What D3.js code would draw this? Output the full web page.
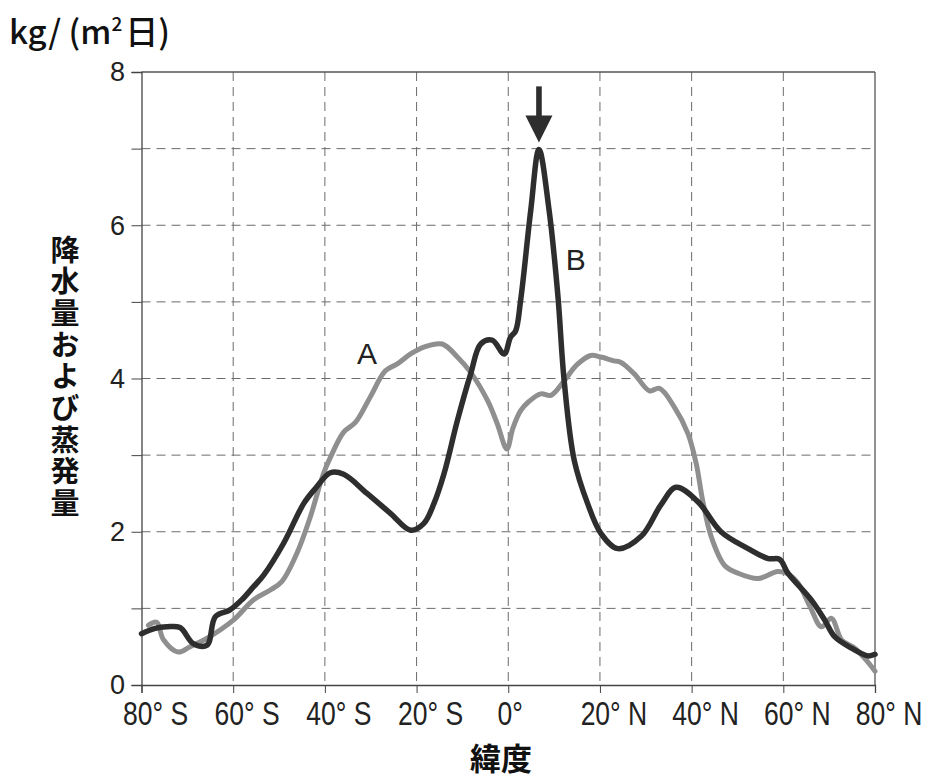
<!DOCTYPE html>
<html>
<head>
<meta charset="utf-8">
<script src="https://cdn.jsdelivr.net/npm/d3@7"></script>
<style>
  html, body { margin: 0; padding: 0; background: #fff; }
  svg { display: block; }
</style>
</head>
<body>
<svg id="chart" width="930" height="778"></svg>
<script>
// ---- data ----
const latA = [-78.5, -76.7, -75.2, -72.0, -69.4, -65.7, -59.9, -55.6, -51.9, -49.4, -46.1, -43.2, -40.3, -38.8, -35.9, -33.3, -30.1, -26.8, -24.2, -21.3, -18.4, -14.4, -11.1, -8.2, -4.5, -2.4, -0.3, 1.0, 2.7, 4.5, 7.1, 9.3, 12.2, 15.0, 18.0, 20.2, 23.1, 24.6, 27.5, 30.8, 33.0, 36.2, 39.2, 41.0, 42.4, 44.3, 47.2, 50.1, 54.5, 58.8, 61.0, 63.2, 66.0, 68.3, 70.5, 72.7, 75.6, 78.0, 80.0];
const valA = [0.78, 0.82, 0.59, 0.43, 0.50, 0.61, 0.85, 1.11, 1.24, 1.35, 1.72, 2.19, 2.76, 2.97, 3.30, 3.43, 3.76, 4.10, 4.19, 4.32, 4.41, 4.45, 4.28, 4.08, 3.71, 3.41, 3.08, 3.35, 3.58, 3.70, 3.80, 3.78, 3.97, 4.18, 4.30, 4.28, 4.23, 4.21, 4.06, 3.84, 3.87, 3.63, 3.28, 2.89, 2.41, 1.93, 1.56, 1.46, 1.39, 1.48, 1.45, 1.33, 1.00, 0.76, 0.87, 0.59, 0.48, 0.33, 0.18];

const latB = [-80, -77.0, -74.5, -71.6, -68.7, -65.7, -63.9, -60.7, -58.0, -55.6, -53.4, -49.0, -44.6, -42.0, -38.8, -35.9, -30.8, -25.7, -21.3, -18.4, -16.2, -14.0, -11.1, -8.2, -6.0, -3.5, -0.9, 0.5, 1.6, 2.7, 4.9, 6.7, 8.9, 10.8, 12.2, 14.4, 17.3, 20.2, 23.9, 29.0, 33.3, 36.6, 41.4, 46.4, 52.3, 56.7, 59.2, 61.0, 66.1, 69.0, 71.2, 74.9, 78.5, 80];
const valB = [0.67, 0.74, 0.76, 0.75, 0.54, 0.52, 0.89, 0.98, 1.12, 1.28, 1.43, 1.85, 2.37, 2.57, 2.77, 2.75, 2.50, 2.24, 2.02, 2.11, 2.37, 2.76, 3.45, 4.06, 4.45, 4.50, 4.32, 4.54, 4.62, 5.02, 6.19, 6.99, 6.20, 5.10, 3.97, 2.93, 2.37, 1.98, 1.78, 1.94, 2.35, 2.58, 2.39, 2.00, 1.78, 1.65, 1.64, 1.46, 1.11, 0.85, 0.63, 0.48, 0.38, 0.40];

const xTicks = [-80, -60, -40, -20, 0, 20, 40, 60, 80];
const xTickLabels = ["80° S", "60° S", "40° S", "20° S", "0°", "20° N", "40° N", "60° N", "80° N"];
const yTicks = [0, 1, 2, 3, 4, 5, 6, 7, 8];
const yTickLabels = ["0", "", "2", "", "4", "", "6", "", "8"];
const seriesNames = ["A", "B"];
const yTitle = "降水量および蒸発量";
const xTitle = "緯度";
const peakLat = 6.7, peakVal = 6.99;

(function () {
// ---- layout ----
const svg = d3.select("#chart");
const pL = 141.5, pR = 875, pT = 72, pB = 685;
const x = d3.scaleLinear().domain([-80, 80]).range([pL, pR]);
const y = d3.scaleLinear().domain([0, 8]).range([pB, pT]);

const gridColor = "#6b6b6b";

// grid lines
svg.append("g").selectAll("line")
  .data(yTicks.filter(d => d > 0 && d < 8))
  .join("line")
  .attr("x1", pL).attr("x2", pR)
  .attr("y1", d => y(d)).attr("y2", d => y(d))
  .attr("stroke", gridColor).attr("stroke-width", 1)
  .attr("stroke-dasharray", "9,6");

svg.append("g").selectAll("line")
  .data(xTicks.filter(d => d > -80 && d < 80))
  .join("line")
  .attr("x1", d => x(d)).attr("x2", d => x(d))
  .attr("y1", pT).attr("y2", pB)
  .attr("stroke", gridColor).attr("stroke-width", 1)
  .attr("stroke-dasharray", "9,6");

// frame (top and right)
svg.append("line").attr("x1", pL).attr("x2", pR).attr("y1", pT).attr("y2", pT)
  .attr("stroke", "#555").attr("stroke-width", 1.3);
svg.append("line").attr("x1", pR).attr("x2", pR).attr("y1", pT).attr("y2", pB)
  .attr("stroke", "#555").attr("stroke-width", 1.3);

// axes
const xAxis = d3.axisBottom(x).tickValues(xTicks).tickSize(8).tickFormat("");
const gx = svg.append("g").attr("transform", `translate(0,${pB})`).call(xAxis);
gx.select(".domain").attr("stroke", "#444").attr("stroke-width", 1.3);
gx.selectAll(".tick line").attr("stroke", "#444");

const yAxis = d3.axisLeft(y).tickValues(yTicks).tickSize(10).tickFormat("");
const gy = svg.append("g").attr("transform", `translate(${pL},0)`).call(yAxis);
gy.select(".domain").attr("stroke", "#444").attr("stroke-width", 1.3);
gy.selectAll(".tick line").attr("stroke", "#444");

// tick labels (condensed)
svg.append("g").selectAll("text")
  .data(xTicks)
  .join("text")
  .attr("transform", d => `translate(${x(d) + (d === 0 ? 2 : 14)},725) scale(0.78,1)`)
  .attr("text-anchor", "middle")
  .attr("font-family", "'Liberation Sans', sans-serif")
  .attr("font-size", 34)
  .attr("fill", "#222")
  .text((d, i) => xTickLabels[i]);

svg.append("g").selectAll("text")
  .data(yTicks)
  .join("text")
  .attr("x", 125)
  .attr("y", d => y(d))
  .attr("dy", "0.35em")
  .attr("text-anchor", "end")
  .attr("font-family", "'Liberation Sans', sans-serif")
  .attr("font-size", 27)
  .attr("fill", "#222")
  .text((d, i) => yTickLabels[i]);

// lines
const lineGen = d3.line()
  .x(d => x(d[0])).y(d => y(d[1]))
  .curve(d3.curveCatmullRom.alpha(0.5));

const dataA = latA.map((v, i) => [v, valA[i]]);
const dataB = latB.map((v, i) => [v, valB[i]]);

svg.append("path").datum(dataA)
  .attr("d", lineGen)
  .attr("fill", "none")
  .attr("stroke", "#8f8f8f")
  .attr("stroke-width", 5)
  .attr("stroke-linejoin", "round")
  .attr("stroke-linecap", "round");

svg.append("path").datum(dataB)
  .attr("d", lineGen)
  .attr("fill", "none")
  .attr("stroke", "#2e2e2e")
  .attr("stroke-width", 5.5)
  .attr("stroke-linejoin", "round")
  .attr("stroke-linecap", "round");

// series labels
svg.append("text")
  .attr("x", x(-30.8)).attr("y", y(4.19))
  .attr("text-anchor", "middle")
  .attr("font-family", "'Liberation Sans', sans-serif")
  .attr("font-size", 30).attr("fill", "#222")
  .text(seriesNames[0]);
svg.append("text")
  .attr("x", x(14.75)).attr("y", y(5.42))
  .attr("text-anchor", "middle")
  .attr("font-family", "'Liberation Sans', sans-serif")
  .attr("font-size", 30).attr("fill", "#222")
  .text(seriesNames[1]);

// arrow above peak
const ax = x(peakLat), tipY = y(peakVal) - 7;
svg.append("rect")
  .attr("x", ax - 2.8).attr("y", tipY - 56).attr("width", 5.6).attr("height", 32)
  .attr("fill", "#2e2e2e");
svg.append("path")
  .attr("d", `M${ax - 13.5},${tipY - 27} L${ax + 13.5},${tipY - 27} L${ax},${tipY} Z`)
  .attr("fill", "#2e2e2e");

// unit label
const unit = svg.append("text")
  .attr("x", 9).attr("y", 44)
  .attr("font-family", "'Noto Sans CJK JP', 'Liberation Sans', sans-serif")
  .attr("font-size", 33).attr("font-weight", 500).attr("fill", "#111");
unit.append("tspan").text("kg/ (m");
unit.append("tspan").attr("font-size", 19).attr("dy", -13).text("2");
unit.append("tspan").attr("dy", 13).attr("dx", 3).text("日)");

// y title (vertical)
svg.append("text")
  .attr("x", 65).attr("y", 235)
  .attr("writing-mode", "vertical-rl")
  .style("letter-spacing", "2.7px")
  .attr("font-family", "'Noto Sans CJK JP', sans-serif")
  .attr("font-size", 29).attr("font-weight", 700).attr("fill", "#111")
  .text(yTitle);

// x title
svg.append("text")
  .attr("x", 501).attr("y", 770)
  .attr("text-anchor", "middle")
  .attr("font-family", "'Noto Sans CJK JP', sans-serif")
  .attr("font-size", 31).attr("font-weight", 700).attr("fill", "#111")
  .text(xTitle);
})();
</script>
</body>
</html>
